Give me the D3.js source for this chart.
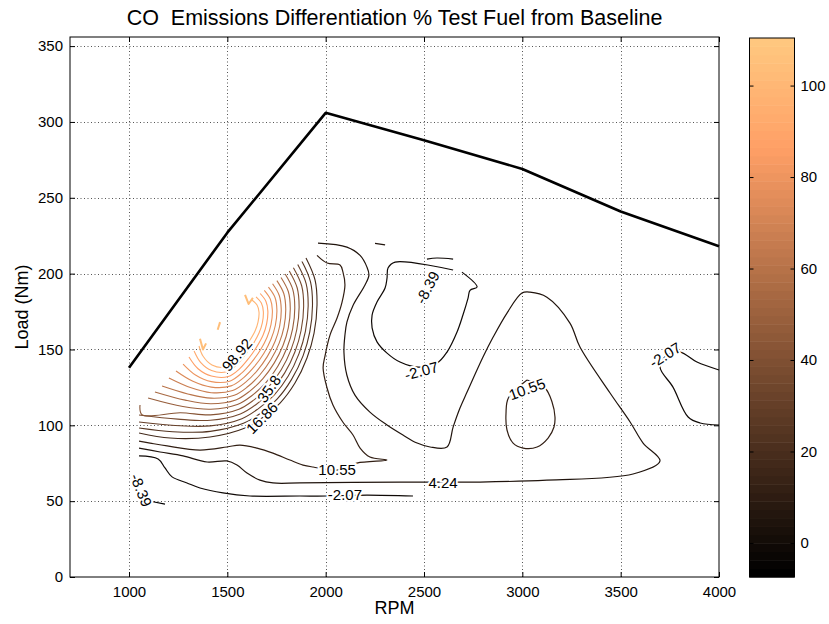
<!DOCTYPE html>
<html>
<head>
<meta charset="utf-8">
<script src="https://cdn.jsdelivr.net/npm/d3@7/dist/d3.min.js"></script>
<style>
  body { margin: 0; background: #fff; }
  text { font-family: "Liberation Sans", Arial, sans-serif; fill: #000; }
</style>
</head>
<body>
<svg id="chart" width="829" height="624"></svg>
<script>
// ---- data (RPM, Load Nm) ----
var rpmTicks = [1000, 1500, 2000, 2500, 3000, 3500, 4000]
var loadTicks = [0, 50, 100, 150, 200, 250, 300, 350]
var colorTicks = [0, 20, 40, 60, 80, 100]

var envelopeRpm = [1000, 1500, 2000, 2500, 3000, 3500, 4000]
var envelopeLoad = [138, 227, 306, 288, 269, 241, 218]

var levels = [-8.39, -2.07, 4.24, 10.55, 16.86, 23.17, 29.49, 35.8, 42.11, 48.42,
  54.74, 61.05, 67.36, 73.67, 79.99, 86.3, 92.61, 98.92, 105.23]

var cNeg839 = [[1122, 49.6], [1183, 48.1]]
var cNeg207Bottom = [[1051, 79.8], [1148, 77.8], [1183, 71.9], [1219, 66], [1295, 62], [1361, 58.7],
  [1478, 55.4], [1615, 53.4], [1869, 53.4], [2007, 53.4], [2210, 54], [2444, 53.4]]
var cNeg207U = [[2648, 202.4], [2353, 207.6], [2317, 203.7], [2312, 197], [2302, 190.5], [2261, 181.3],
  [2236, 172.7], [2236, 164.2], [2261, 155], [2312, 147.6], [2378, 141.7], [2470, 138.4], [2566, 141],
  [2617, 148.3], [2668, 161.5], [2698, 172.7], [2724, 183.9], [2734, 189], [2770, 191.2], [2693, 201]]
var cNeg207Right = [[4000, 100.2], [3904, 101.5], [3843, 105.5], [3766, 125.2], [3700, 138.4],
  [3736, 146.3], [3802, 148.3], [3888, 141.7], [4000, 136.5]]
var c424 = [[1051, 85], [1158, 82.4], [1275, 79.8], [1397, 75.8], [1498, 76.5], [1549, 73.8], [1600, 68.5],
  [1666, 63.9], [1732, 62], [1869, 62], [2378, 62.6], [2597, 62.6], [2785, 62.6], [3125, 63.9], [3563, 67.9],
  [3700, 76.5], [3614, 88.3], [3548, 102.2], [3446, 121.3], [3293, 151.6], [3242, 167.4], [3125, 184.5],
  [3039, 187.8], [2998, 187.2], [2922, 174], [2851, 158], [2800, 145], [2719, 121.9], [2683, 111.4],
  [2648, 98.8], [2617, 85.7], [2531, 85.7], [2465, 88.3], [2393, 93.6], [2312, 100.2], [2225, 108.7],
  [2149, 119.9], [2108, 133], [2093, 148], [2098, 159.5], [2108, 168], [2139, 179], [2200, 192.5],
  [2220, 199], [2210, 204.3], [2175, 212], [2108, 217.5], [1961, 220.1]]
var c1055 = [[1051, 89.6], [1107, 88.3], [1194, 86.4], [1361, 83.7], [1498, 85.7], [1564, 87], [1651, 85],
  [1732, 81.7], [1818, 77.1], [1885, 73.8], [1936, 72.5], [2058, 70.5], [2159, 75.1], [2312, 77.1],
  [2225, 79.1], [2175, 85], [2139, 93.6], [2088, 102], [2037, 113.4], [2007, 124.6], [1987, 137.8],
  [1997, 146], [2022, 159.5], [2058, 170.7], [2083, 181], [2098, 192.5], [2088, 201], [2073, 205.7],
  [2007, 207], [1956, 212]]
var c1055Loop = [[3024, 129.9], [2929, 118], [2917, 108], [2922, 96.9], [2953, 88.3], [3004, 85],
  [3075, 85.7], [3131, 91.6], [3161, 98.9], [3166, 105.5], [3151, 115.4], [3115, 124.6], [3024, 129.9]]
var cShortA = [[2251, 220], [2302, 218.9]]
var cShortB = [[2515, 209.6], [2566, 210.3], [2648, 209.6]]

// the fan of high values, 16.86 (outer) .. 98.92 (inner); both ends sit on the data edge
var fanArcs = [
  [[1051, 94.9], [1209, 91.6], [1412, 92.3], [1590, 98.2], [1676, 104.8], [1768, 114.7], [1844, 127.9], [1905, 144.4], [1941, 160.8], [1956, 179.3], [1946, 195.8], [1900, 210.3]],
  [[1051, 98.2], [1222, 95.8], [1413, 96.0], [1582, 101.3], [1666, 107.7], [1754, 117.4], [1826, 130.1], [1885, 145.8], [1919, 161.4], [1933, 179.0], [1923, 194.5], [1879, 208.2]],
  [[1051, 102.2], [1235, 99.9], [1414, 99.6], [1574, 104.4], [1655, 110.7], [1739, 120.1], [1809, 132.3], [1864, 147.1], [1897, 161.9], [1911, 178.6], [1901, 193.3], [1858, 206.0]],
  [[1051, 106.8], [1248, 104.1], [1414, 103.3], [1566, 107.5], [1645, 113.6], [1724, 122.7], [1791, 134.4], [1844, 148.5], [1875, 162.5], [1888, 178.3], [1878, 192.0], [1836, 203.9]],
  [[1056, 113.4], [1066, 107], [1261, 108.3], [1415, 106.9], [1559, 110.6], [1634, 116.6], [1710, 125.4], [1774, 136.6], [1824, 149.9], [1853, 163.0], [1865, 177.9], [1855, 190.7], [1815, 201.8]],
  [[1097, 118], [1274, 112.4], [1416, 110.6], [1551, 113.7], [1624, 119.5], [1696, 128.1], [1756, 138.8], [1804, 151.3], [1832, 163.6], [1843, 177.5], [1833, 189.5], [1794, 199.7]],
  [[1132, 122], [1286, 116.6], [1417, 114.2], [1543, 116.7], [1613, 122.4], [1681, 130.8], [1738, 141.0], [1783, 152.6], [1810, 164.2], [1820, 177.2], [1810, 188.2], [1773, 197.5]],
  [[1168, 125.9], [1299, 120.7], [1417, 117.9], [1535, 119.8], [1603, 125.4], [1667, 133.5], [1721, 143.2], [1763, 154.0], [1788, 164.7], [1797, 176.8], [1787, 186.9], [1752, 195.4]],
  [[1203, 131.2], [1312, 124.9], [1418, 121.5], [1527, 122.9], [1592, 128.3], [1652, 136.1], [1703, 145.3], [1743, 155.4], [1766, 165.3], [1774, 176.5], [1764, 185.6], [1730, 193.3]],
  [[1239, 135.8], [1325, 129.0], [1418, 125.2], [1519, 126.0], [1582, 131.3], [1638, 138.8], [1686, 147.5], [1722, 156.7], [1744, 165.8], [1752, 176.1], [1742, 184.4], [1709, 191.1]],
  [[1275, 140.4], [1338, 133.2], [1419, 128.8], [1512, 129.1], [1571, 134.2], [1623, 141.5], [1668, 149.7], [1702, 158.1], [1722, 166.4], [1729, 175.8], [1719, 183.1], [1688, 189.0]],
  [[1305, 145], [1351, 137.3], [1419, 132.5], [1505, 132.2], [1561, 137.1], [1609, 144.2], [1650, 151.9], [1682, 159.5], [1700, 167.0], [1706, 175.4], [1696, 181.8], [1667, 186.9]],
  [[1331, 149], [1364, 141.5], [1420, 136.1], [1496, 135.3], [1550, 140.1], [1594, 146.9], [1633, 154.1], [1661, 160.8], [1678, 167.5], [1683, 175.1], [1673, 180.6], [1646, 184.7]],
  [[1356, 152.3], [1376, 145.7], [1422, 139.8], [1488, 138.4], [1539, 143.0], [1580, 149.6], [1615, 156.2], [1641, 162.2], [1656, 168.1], [1661, 174.7], [1651, 179.3], [1625, 182.6]]
]
var fanLevels = [16.86, 23.17, 29.49, 35.8, 42.11, 48.42, 54.74, 61.05, 67.36, 73.67, 79.99, 86.3, 92.61, 98.92]
var tipMarks = [
  [[1361, 157], [1376, 150], [1392, 154]],
  [[1451, 163], [1463, 168]],
  [[1590, 186], [1608, 180], [1630, 184]]
]

var labelText = ["98.92", "35.8", "16.86", "10.55", "4.24", "-2.07", "-8.39", "-8.39", "-2.07", "10.55", "-2.07"]
var labelRpm = [1549, 1712, 1676, 2058, 2597, 2098, 1061, 2518, 2487, 3024, 3726]
var labelLoad = [146.5, 124.0, 104.8, 70.5, 62, 54, 57.3, 190.8, 135.8, 123.9, 146.3]
var labelAngle = [-50, -55, -45, 0, 0, 0, 68, -62, -15, -20, -32]

var colorMin = -7.44
var colorMax = 110.4

// ---- drawing ----
var svg = d3.select("#chart")
var plotL = 70, plotR = 719, plotT = 37, plotB = 577

var x = d3.scaleLinear().domain([700, 4000]).range([plotL, plotR])
var y = d3.scaleLinear().domain([0, 356]).range([plotB, plotT])
var cTone = d3.scaleLinear().domain([colorMin, colorMax]).range([0, 1]).clamp(true)

function copper(t) {
  return d3.rgb(255 * Math.min(1, 1.25 * t), 255 * 0.7812 * t, 255 * 0.4975 * t).toString()
}

var line = d3.line()
  .x(function (d) { return x(d[0]) })
  .y(function (d) { return y(d[1]) })
  .curve(d3.curveCatmullRom.alpha(0.5))

// grid
var grid = svg.append("g").attr("stroke", "#555").attr("stroke-width", 1).attr("stroke-dasharray", "1,2.5")
grid.selectAll(".gx").data(rpmTicks.filter(function (d) { return d < 4000 })).enter().append("line")
  .attr("x1", function (d) { return Math.round(x(d)) + 0.5 }).attr("x2", function (d) { return Math.round(x(d)) + 0.5 })
  .attr("y1", plotT).attr("y2", plotB)
grid.selectAll(".gy").data(loadTicks.filter(function (d) { return d > 0 })).enter().append("line")
  .attr("y1", function (d) { return Math.round(y(d)) + 0.5 }).attr("y2", function (d) { return Math.round(y(d)) + 0.5 })
  .attr("x1", plotL).attr("x2", plotR)

// contours
var plot = svg.append("g").attr("fill", "none").attr("stroke-width", 1.2).attr("stroke-linejoin", "round")

var blackLines = [
  { level: -8.39, pts: cNeg839 },
  { level: -2.07, pts: cNeg207Bottom },
  { level: -2.07, pts: cNeg207U },
  { level: -2.07, pts: cNeg207Right },
  { level: 4.24, pts: c424 },
  { level: 10.55, pts: c1055 },
  { level: 10.55, pts: c1055Loop },
  { level: 4.24, pts: cShortA },
  { level: -2.07, pts: cShortB }
]
plot.selectAll(".blk").data(blackLines).enter().append("path")
  .attr("d", function (d) { return line(d.pts) })
  .attr("stroke", function (d) { return copper(cTone(d.level)) })

plot.selectAll(".fan").data(fanArcs).enter().append("path")
  .attr("d", function (d) { return line(d) })
  .attr("stroke", function (d, i) { return copper(cTone(fanLevels[i])) })
  .attr("stroke-width", 1.1)

plot.selectAll(".tip").data(tipMarks).enter().append("path")
  .attr("d", function (d) { return d3.line().x(function (p) { return x(p[0]) }).y(function (p) { return y(p[1]) })(d) })
  .attr("stroke", copper(cTone(105.23)))
  .attr("stroke-width", 2)

// envelope
svg.append("path")
  .datum(d3.zip(envelopeRpm, envelopeLoad))
  .attr("d", d3.line().x(function (d) { return x(d[0]) }).y(function (d) { return y(d[1]) }))
  .attr("fill", "none").attr("stroke", "#000").attr("stroke-width", 2.6).attr("stroke-linejoin", "round")

// contour labels
svg.append("g").selectAll("text").data(labelText).enter().append("text")
  .attr("transform", function (d, i) {
    return "translate(" + x(labelRpm[i]) + "," + y(labelLoad[i]) + ") rotate(" + labelAngle[i] + ")"
  })
  .attr("text-anchor", "middle").attr("dy", "0.35em")
  .attr("font-size", 15)
  .attr("stroke", "#fff").attr("stroke-width", 4).attr("paint-order", "stroke")
  .text(function (d) { return d })

// axes: ticks point inward, box on
function styleAxis(g) {
  g.select(".domain").remove()
  g.selectAll(".tick line").attr("stroke", "#000")
  g.selectAll(".tick text").attr("font-size", 15).attr("fill", "#000")
    .attr("font-family", "'Liberation Sans', Arial, sans-serif")
}
var fmt = d3.format("d")
svg.append("g").attr("transform", "translate(0," + plotB + ")")
  .call(d3.axisBottom(x).tickValues(rpmTicks).tickFormat(fmt).tickSizeInner(-5).tickSizeOuter(0).tickPadding(9))
  .call(styleAxis)
svg.append("g").attr("transform", "translate(0," + plotT + ")")
  .call(d3.axisTop(x).tickValues(rpmTicks).tickSizeInner(-5).tickSizeOuter(0).tickFormat(""))
  .call(styleAxis)
svg.append("g").attr("transform", "translate(" + plotL + ",0)")
  .call(d3.axisLeft(y).tickValues(loadTicks).tickFormat(fmt).tickSizeInner(-5).tickSizeOuter(0).tickPadding(7))
  .call(styleAxis)
svg.append("g").attr("transform", "translate(" + plotR + ",0)")
  .call(d3.axisRight(y).tickValues(loadTicks).tickSizeInner(-5).tickSizeOuter(0).tickFormat(""))
  .call(styleAxis)
svg.append("rect").attr("x", plotL).attr("y", plotT).attr("width", plotR - plotL).attr("height", plotB - plotT)
  .attr("fill", "none").attr("stroke", "#000").attr("stroke-width", 1)

// titles
svg.append("text").attr("x", (plotL + plotR) / 2).attr("y", 25).attr("text-anchor", "middle")
  .attr("font-size", 21.5).attr("xml:space", "preserve").style("white-space", "pre")
  .text("CO  Emissions Differentiation % Test Fuel from Baseline")
svg.append("text").attr("x", (plotL + plotR) / 2).attr("y", 614).attr("text-anchor", "middle")
  .attr("font-size", 18).text("RPM")
svg.append("text").attr("transform", "translate(28," + (plotT + plotB) / 2 + ") rotate(-90)")
  .attr("text-anchor", "middle").attr("font-size", 18).text("Load (Nm)")

// colorbar
var cbLeft = 749.5, cbRight = 794.5
var cy = d3.scaleLinear().domain([colorMin, colorMax]).range([plotB, plotT + 1])
var bands = d3.range(64)
var cbBand = d3.scaleLinear().domain([0, 64]).range([colorMin, colorMax])
var cb = svg.append("g")
cb.selectAll("rect").data(bands).enter().append("rect")
  .attr("x", cbLeft).attr("width", cbRight - cbLeft)
  .attr("y", function (d) { return cy(cbBand(d + 1)) })
  .attr("height", function (d) { return cy(cbBand(d)) - cy(cbBand(d + 1)) + 0.5 })
  .attr("fill", function (d) { return copper(d / 63) })
cb.append("rect").attr("x", cbLeft).attr("y", cy(colorMax)).attr("width", cbRight - cbLeft)
  .attr("height", cy(colorMin) - cy(colorMax)).attr("fill", "none").attr("stroke", "#000")
cb.append("g").attr("transform", "translate(" + cbRight + ",0)")
  .call(d3.axisRight(cy).tickValues(colorTicks).tickSizeInner(-4).tickSizeOuter(0).tickPadding(6))
  .call(styleAxis)
cb.append("g").attr("transform", "translate(" + cbLeft + ",0)")
  .call(d3.axisLeft(cy).tickValues(colorTicks).tickSizeInner(-4).tickSizeOuter(0).tickFormat(""))
  .call(styleAxis)
</script>
</body>
</html>
